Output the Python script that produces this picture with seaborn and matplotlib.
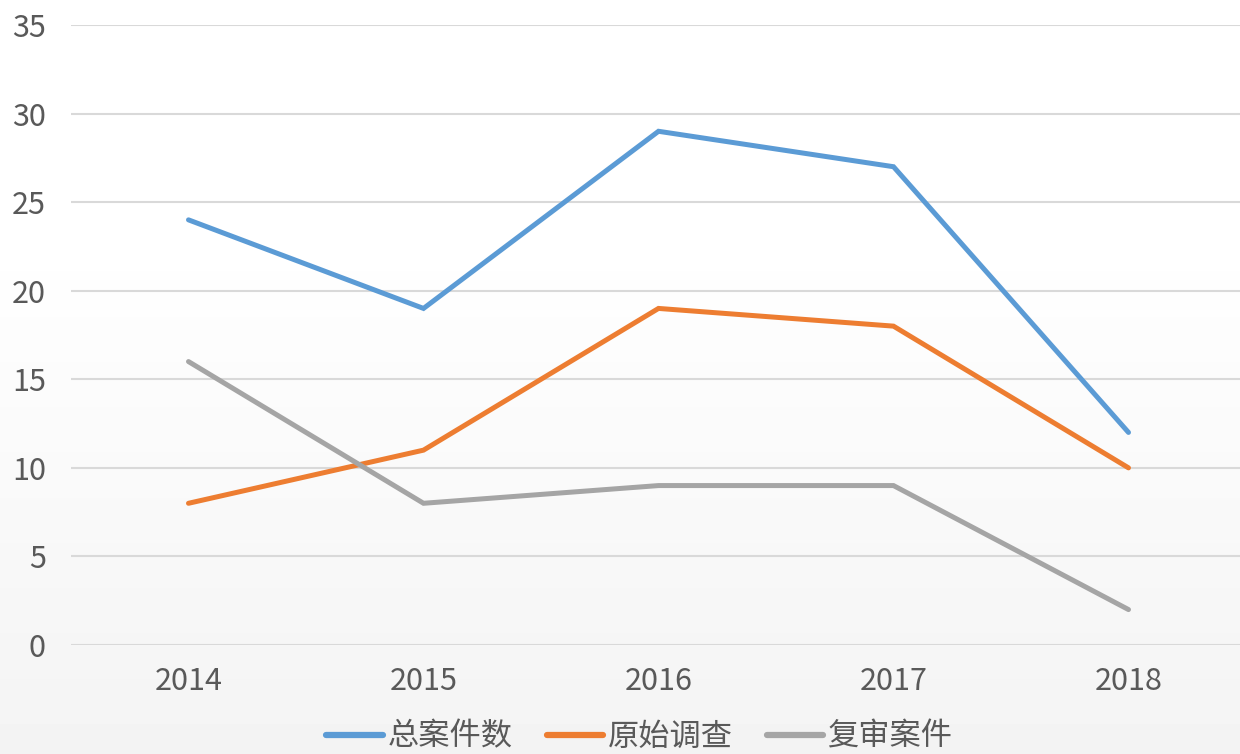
import numpy as np
import pandas as pd
import seaborn as sns
from matplotlib import pyplot as plt

years = ["2014", "2015", "2016", "2017", "2018"]
total_cases = [24, 19, 29, 27, 12]
original_inv = [8, 11, 19, 18, 10]
review_cases = [16, 8, 9, 9, 2]
series_names = ["总案件数", "原始调查", "复审案件"]
colors = ["#5B9BD5", "#ED7D31", "#A5A5A5"]

data = pd.DataFrame({
    "year": years * 3,
    "count": total_cases + original_inv + review_cases,
    "series": [n for n in series_names for _ in years],
})

sns.set_theme(style="white")
plt.rcParams["font.family"] = ["Noto Sans CJK SC", "DejaVu Sans"]
plt.rcParams["font.weight"] = "light"

fig = plt.figure(figsize=(12.4, 7.54), dpi=100)

# soft grey wash behind the chart
bg = fig.add_axes([0, 0, 1, 1], zorder=-1)
grad = np.concatenate([np.ones(30), np.linspace(1.0, 0.955, 70)])
bg.imshow(grad[:, None], aspect="auto", cmap="gray", vmin=0, vmax=1,
          extent=[0, 1, 0, 1])
bg.axis("off")

ax = fig.add_axes([71 / 1240, 109 / 754, 1175 / 1240, 620 / 754])
ax.patch.set_alpha(0)

sns.lineplot(data=data, x="year", y="count", hue="series", palette=colors,
             linewidth=3.6, ax=ax, legend=True, sort=False)
for line in ax.lines:
    line.set_solid_capstyle("round")
    line.set_solid_joinstyle("miter")

ax.set_xlim(-0.5, 4.5)
ax.set_ylim(0, 35)
ax.set_yticks(range(0, 36, 5))
ax.grid(axis="y", color="#D9D9D9", linewidth=1.5)
ax.set_axisbelow(True)
for s in ax.spines.values():
    s.set_visible(False)
ax.set_xlabel("")
ax.set_ylabel("")
ax.tick_params(axis="both", colors="#595959", labelsize=22, length=0)
ax.tick_params(axis="y", pad=18)
ax.tick_params(axis="x", pad=15)

handles, labels = ax.get_legend_handles_labels()
leg = ax.legend(handles, labels, loc="center", bbox_to_anchor=(0.484, -0.148),
                ncol=3, frameon=False, fontsize=22.5, handlelength=1.8,
                handletextpad=0.15, columnspacing=1.1, labelcolor="#595959",
                borderaxespad=0, borderpad=0)
for h in leg.legend_handles:
    h.set_linewidth(4.5)
    h.set_solid_capstyle("round")

fig.savefig("out.png", dpi=100)
